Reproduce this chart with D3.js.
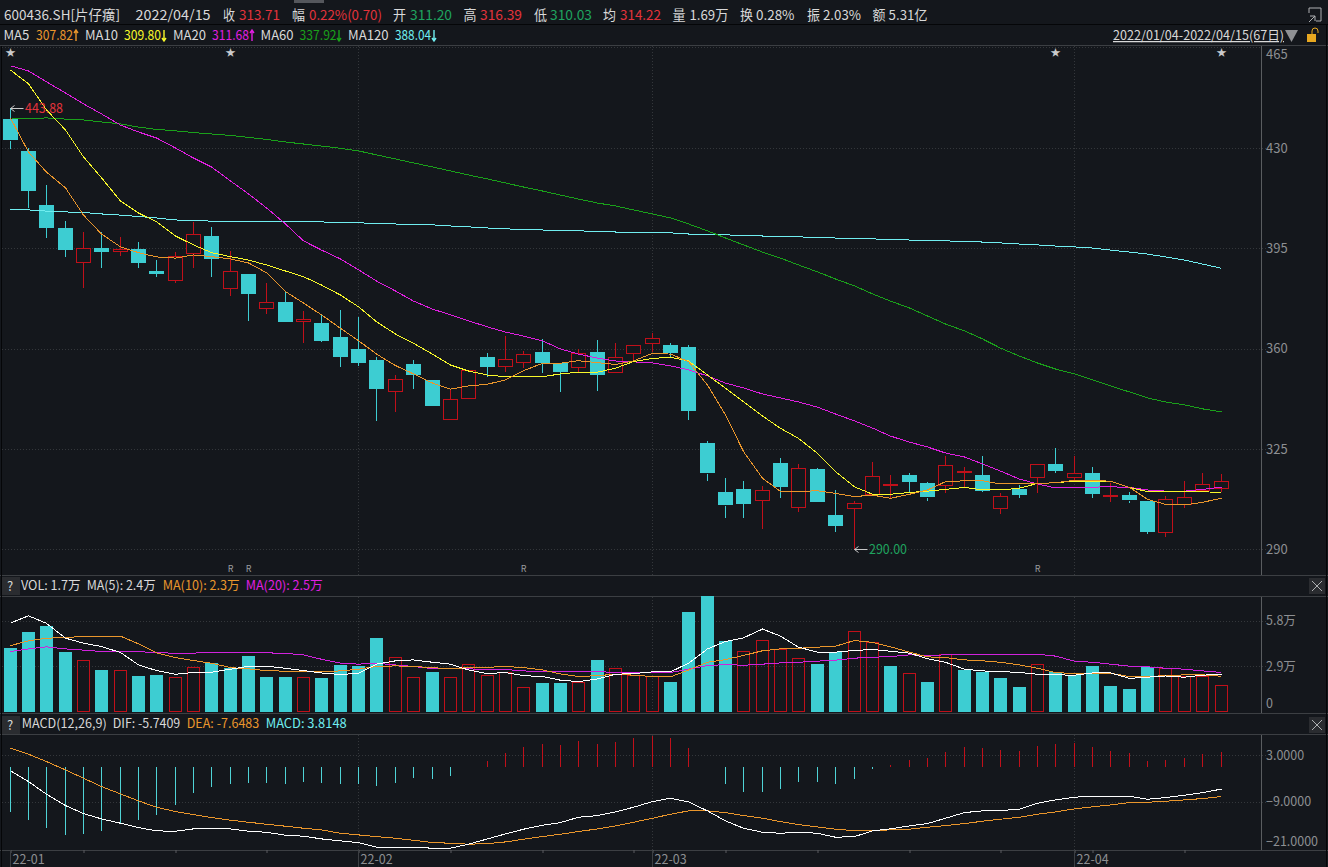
<!DOCTYPE html>
<html lang="zh"><head><meta charset="utf-8"><title>600436.SH</title>
<script src="https://cdnjs.cloudflare.com/ajax/libs/d3/7.8.5/d3.min.js"></script>
<style>html,body{margin:0;padding:0;background:#14171c;overflow:hidden}svg{display:block}text{font-family:"Noto Sans CJK SC","Noto Sans",sans-serif;font-size:12.5px}</style>
</head><body><div id="chart"></div>
<script>
const opens=[440.1,429.0,410.1,402.2,390.0,395.1,394.1,394.8,387.2,384.2,393.1,399.3,381.1,386.1,374.0,376.3,369.6,369.0,364.1,359.9,356.1,345.3,354.6,349.1,335.4,343.0,357.1,353.7,355.1,358.8,354.9,353.6,358.8,351.6,358.4,362.1,361.3,360.6,327.0,309.9,311.0,307.0,320.0,304.7,318.0,302.0,304.5,309.3,312.4,315.9,313.0,312.4,317.0,315.9,304.5,310.9,315.0,319.8,315.2,316.5,308.4,308.8,306.9,296.3,305.8,310.7,311.20];
const closes=[432.6,415.1,402.2,394.4,395.0,393.7,394.8,390.0,386.1,392.4,399.9,391.2,387.0,379.2,376.2,369.4,370.3,362.8,357.1,355.1,345.9,349.5,350.9,340.1,342.3,352.6,353.7,356.3,358.0,355.1,351.9,358.6,350.9,357.0,361.2,363.7,358.6,338.4,316.4,305.2,305.9,310.6,311.8,318.3,306.6,298.1,306.1,315.5,312.8,313.5,308.0,319.4,317.3,310.4,308.7,308.9,319.7,317.4,316.5,309.3,308.8,307.0,296.0,307.7,308.4,312.7,313.71];
const highs=[443.88,430.0,417.1,404.7,400.8,400.8,398.9,397.3,390.9,393.6,404.1,402.6,394.1,386.1,382.9,380.1,373.1,372.1,373.5,370.9,357.1,350.9,356.1,349.1,345.8,352.6,358.4,364.4,359.3,363.4,355.1,359.8,363.0,362.1,361.3,365.4,362.1,361.3,327.8,314.8,313.8,312.2,321.8,319.7,318.5,310.7,306.9,320.4,315.9,316.5,313.5,322.6,318.8,322.6,309.7,312.4,319.7,325.2,322.6,318.8,313.2,310.1,306.9,308.6,313.8,316.7,316.39];
const lows=[429.7,409.2,398.5,391.9,381.2,388.2,392.4,388.2,385.0,383.0,388.3,385.0,378.4,369.8,372.0,369.4,362.1,362.3,353.7,354.0,334.9,338.0,346.0,340.1,335.4,343.0,350.0,352.0,353.2,351.5,345.0,351.9,345.3,351.6,355.5,358.9,357.0,335.1,313.8,300.8,300.8,297.0,308.0,303.1,306.6,296.1,290.00,308.6,307.8,309.5,306.9,309.5,311.8,310.1,302.2,307.8,309.5,316.7,313.6,308.0,306.4,306.3,295.3,294.4,304.3,310.0,310.03];
const ma5=[440.5,428.6,421.6,416.1,406.6,400.0,395.5,393.5,392.0,391.6,392.7,392.1,391.3,389.9,386.5,379.9,375.9,371.8,367.1,362.8,358.1,354.1,351.2,348.0,345.9,347.0,347.6,349.1,352.3,354.9,354.9,355.8,355.1,354.5,355.7,358.4,358.1,355.5,347.3,336.9,324.1,314.8,310.2,310.2,310.4,309.5,308.4,308.9,307.8,309.2,310.7,313.6,313.9,313.9,312.8,313.0,313.0,313.2,314.1,313.9,313.8,311.6,307.4,305.7,305.5,306.4,307.82];
const ma10=[457.2,452.4,443.3,436.3,426.9,419.6,411.5,407.3,404.3,399.3,396.2,393.5,392.1,390.9,389.2,387.1,385.1,382.2,378.7,374.6,369.4,365.1,361.9,358.1,354.3,352.2,350.8,350.2,350.2,350.2,351.2,351.8,351.8,353.2,355.5,356.6,357.0,355.7,350.8,346.2,341.5,336.5,332.2,328.7,323.5,317.1,311.8,309.2,309.2,309.8,310.3,310.9,311.6,310.7,310.7,311.3,313.0,313.2,313.8,313.6,313.8,311.6,310.1,310.0,310.0,310.1,309.80];
const ma20=[458.7,456.9,453.1,449.2,445.4,441.9,438.0,435.6,433.5,430.0,426.5,423.4,418.5,414.0,409.1,403.5,397.6,394.4,391.3,387.5,383.6,380.1,376.6,373.8,371.8,369.7,367.6,365.8,364.4,362.7,359.9,358.1,356.7,355.7,355.4,355.0,354.0,352.6,350.5,348.0,346.3,344.2,342.8,341.4,339.6,337.2,334.8,332.3,329.5,327.4,325.7,323.6,322.2,319.8,317.3,314.5,312.8,311.4,311.7,311.7,311.8,311.6,310.7,310.3,310.3,310.9,311.68];
const ma60=[440.1,440.3,440.5,440.1,439.8,439.1,438.4,437.3,436.5,436.0,435.4,434.9,434.4,433.7,433.0,432.1,431.4,430.7,429.9,429.0,427.6,426.2,424.8,423.4,422.0,420.6,419.2,417.8,416.4,415.0,413.6,412.2,410.8,409.8,408.4,407.0,405.6,403.5,401.1,398.6,396.2,393.7,391.6,389.2,386.8,384.3,381.9,379.1,376.6,374.2,371.4,368.6,366.2,363.4,360.2,357.4,355.0,352.9,351.2,349.1,347.0,344.9,342.8,341.4,340.4,339.0,337.92];
const ma120=[408.6,408.4,408.0,407.7,407.5,407.0,406.6,406.1,405.6,404.9,404.7,404.5,404.5,404.5,404.4,404.4,404.3,404.2,404.1,403.9,403.7,403.5,403.3,403.2,402.8,402.5,402.1,401.8,401.6,401.4,401.2,401.1,400.9,400.7,400.6,400.5,400.4,400.0,399.8,399.7,399.5,399.3,399.1,399.0,398.8,398.6,398.4,398.3,398.1,397.9,397.7,397.6,397.4,397.2,396.9,396.5,396.2,395.8,395.5,395.1,394.4,393.7,393.0,392.0,390.9,389.5,388.04];
const volumes=[4.08,5.10,5.48,3.82,3.29,2.68,2.65,2.29,2.36,2.23,2.87,3.10,2.78,3.57,2.23,2.23,2.23,2.17,2.99,2.93,4.71,3.48,2.23,2.55,2.23,3.04,2.36,2.57,1.57,1.87,1.87,1.93,3.31,2.78,2.36,2.29,1.93,6.37,7.35,4.48,3.86,4.56,4.01,3.42,3.06,3.80,5.16,4.42,2.93,2.48,1.91,3.69,2.68,2.55,2.17,1.59,3.04,2.55,2.36,2.93,1.66,1.46,2.85,2.82,2.29,2.29,1.69];
const volumeUpDays=[4,6,9,10,16,21,22,24,25,26,27,28,31,33,34,35,40,41,42,43,46,47,49,51,56,63,64,65,66];
const volMa5=[5.65,6.11,5.63,4.69,4.37,4.16,3.78,2.99,2.63,2.40,2.51,2.53,2.72,2.91,2.91,2.78,2.63,2.48,2.38,2.46,3.04,3.25,3.31,3.16,3.04,2.67,2.44,2.51,2.31,2.25,2.02,1.93,2.10,2.40,2.44,2.55,2.55,3.10,4.01,4.48,4.71,5.27,4.82,4.12,3.80,3.80,3.91,3.97,3.86,3.74,3.38,3.16,2.72,2.61,2.57,2.51,2.40,2.36,2.34,2.48,2.48,2.14,2.21,2.29,2.21,2.34,2.40];
const volMa10=[4.22,4.52,4.69,4.73,4.80,4.82,4.82,4.33,3.76,3.46,3.27,3.10,2.82,2.74,2.63,2.59,2.59,2.57,2.61,2.72,2.89,2.93,2.89,2.82,2.74,2.82,2.84,2.89,2.82,2.67,2.42,2.25,2.31,2.40,2.34,2.25,2.23,2.67,3.16,3.33,3.59,3.89,4.01,4.05,4.12,4.18,4.54,4.42,4.14,3.80,3.50,3.46,3.31,3.25,3.16,2.99,2.78,2.51,2.44,2.46,2.46,2.25,2.25,2.31,2.36,2.36,2.27];
const volMa20=[3.84,4.01,4.14,4.01,3.93,3.84,3.86,3.84,3.76,3.74,3.74,3.80,3.76,3.80,3.76,3.72,3.63,3.35,3.10,3.04,3.10,2.99,2.89,2.76,2.74,2.74,2.70,2.70,2.61,2.57,2.57,2.55,2.59,2.48,2.51,2.51,2.51,2.72,2.95,3.01,2.97,3.04,3.12,3.16,3.23,3.29,3.42,3.48,3.52,3.63,3.59,3.63,3.63,3.63,3.63,3.63,3.67,3.55,3.23,3.16,3.04,2.91,2.87,2.78,2.72,2.61,2.51];
const macdBars=[-11.55,-13.7,-15.86,-17.6,-17.3,-16.5,-14.8,-13.7,-12.4,-9.8,-6.7,-5.2,-4.4,-4.05,-4.1,-4.4,-3.9,-4.1,-4.4,-4.4,-4.9,-4.05,-2.8,-3.1,-2.3,-0.1,1.55,3.5,5.1,5.9,5.7,6.7,5.9,6.55,7.4,8.0,7.6,4.8,-0.1,-4.4,-6.5,-6.5,-5.7,-4.0,-4.0,-4.4,-3.2,-0.6,0.5,1.8,2.2,3.9,5.1,4.8,4.4,4.1,5.4,5.9,6.2,5.1,4.1,3.6,1.4,1.8,2.4,3.4,3.8148];
const dif=[-1.03,-3.79,-7.07,-10.0,-12.07,-13.45,-14.57,-15.69,-16.55,-16.64,-16.03,-15.86,-16.03,-16.64,-16.9,-17.67,-17.93,-18.62,-19.14,-19.57,-20.78,-20.78,-20.78,-21.03,-21.03,-20.0,-18.62,-17.33,-16.12,-15.09,-14.4,-13.02,-12.59,-11.64,-10.43,-8.97,-8.1,-9.05,-11.38,-13.97,-15.86,-16.9,-17.16,-16.9,-17.16,-18.19,-18.02,-16.55,-16.03,-15.26,-14.66,-13.28,-11.81,-11.38,-11.29,-10.95,-9.4,-8.53,-7.84,-7.59,-7.59,-7.59,-8.36,-7.93,-7.33,-6.64,-5.7409];
const dea=[4.83,3.28,1.38,-0.78,-2.93,-5.09,-6.98,-8.79,-10.43,-11.55,-12.33,-13.1,-13.79,-14.31,-14.83,-15.34,-15.86,-16.29,-17.16,-17.59,-18.02,-18.45,-18.97,-19.57,-19.74,-20.0,-19.83,-19.4,-18.71,-18.02,-17.41,-16.72,-16.03,-15.26,-14.31,-13.28,-12.24,-11.38,-11.38,-11.81,-12.59,-13.28,-14.14,-14.91,-15.52,-16.12,-16.47,-16.47,-16.29,-16.12,-15.6,-15.17,-14.66,-14.05,-13.53,-13.02,-12.24,-11.64,-10.86,-10.34,-9.83,-9.22,-9.14,-8.88,-8.53,-8.19,-7.6483];
const priceTicks=[465,430,395,360,325,290];
const volTicks=[5.8,2.9,0];
const macdTicks=[3,-9,-21];
const monthIndex=[19,35,58];
const monthLabels=["22-01","22-02","22-03","22-04"];
const dayTicks=[0,4,9,14,19,24,29,34,35,39,44,49,54,58,59,64];
const starDays=[0,12,57,66];
const rDays=[12,13,28,56];

const W=1328,H=867;
const C={bg:"#14171c",grid:"#34373b",sep:"#3c3f43",axis:"#5a5d60",tick:"#8d8f92",white:"#d9d9d9",up:"#c0101a",down:"#3dcdd2",upT:"#e2333b",dnT:"#1fa35f",o:"#ea962c",y:"#f8f82a",m:"#e01fe0",g:"#1aa01a",c:"#70eef0"};
const x=d3.scaleLinear().domain([0,66]).range([10,1221]);
const px=i=>Math.floor(x(i))+.5;
const yP=d3.scaleLinear().domain([290,465]).range([549.3,47.7]);
const yV=d3.scaleLinear().domain([0,5.8]).range([712,620.7]);
const yM=d3.scaleLinear().domain([-21,3]).range([848.1,755.3]);
const days=d3.range(opens.length);
const svg=d3.select("#chart").append("svg").attr("width",W).attr("height",H).attr("viewBox",`0 0 ${W} ${H}`);
svg.append("rect").attr("width",W).attr("height",H).attr("fill",C.bg);

/* frame lines */
const hl=(y,c,x2=W)=>svg.append("line").attr("x1",0).attr("x2",x2).attr("y1",y+.5).attr("y2",y+.5).attr("stroke",c);
hl(24,"#050608");hl(45,C.sep);hl(575,C.sep);hl(596,C.sep);hl(713,C.sep);hl(734,C.sep);hl(850,C.sep);
svg.append("rect").attr("x",1).attr("y",46).attr("width",1).attr("height",821).attr("fill","#050608");
svg.append("rect").attr("x",1326).attr("y",24).attr("width",1).attr("height",843).attr("fill","#050608");
svg.append("rect").attr("x",294).attr("y",0).attr("width",30).attr("height",3).attr("fill","#55575c");
[[46,575],[597,713],[735,850]].forEach(([a,b])=>svg.append("line").attr("x1",1261.5).attr("x2",1261.5).attr("y1",a).attr("y2",b).attr("stroke",C.axis));

/* grid */
const dotted=(g,a,b,c,d)=>g.append("line").attr("x1",a).attr("x2",b).attr("y1",c).attr("y2",d).attr("stroke",C.grid).attr("stroke-dasharray","1,2");
const grid=svg.append("g");
priceTicks.slice(1).forEach(t=>dotted(grid,2,1266,Math.round(yP(t))+.5,Math.round(yP(t))+.5));
dotted(grid,2,1262,47.5,47.5);
volTicks.slice(0,2).forEach(t=>dotted(grid,2,1266,Math.round(yV(t))+.5,Math.round(yV(t))+.5));
macdTicks.slice(0,2).forEach(t=>dotted(grid,2,1266,Math.round(yM(t))+.5,Math.round(yM(t))+.5));
monthIndex.forEach(i=>{[[46,575],[597,713],[735,850]].forEach(([a,b])=>dotted(grid,px(i),px(i),a,b));});

/* candles */
const isRed=i=>closes[i]>=opens[i];
const cand=svg.append("g");
cand.selectAll("line.wick-top").data(days).join("line").attr("class","wick-top")
 .attr("x1",px).attr("x2",px)
 .attr("y1",i=>Math.round(yP(highs[i]))).attr("y2",i=>Math.round(yP(Math.max(opens[i],closes[i]))))
 .attr("stroke",i=>isRed(i)?C.up:C.down);
cand.selectAll("line.wick-bot").data(days).join("line").attr("class","wick-bot")
 .attr("x1",px).attr("x2",px)
 .attr("y1",i=>Math.round(yP(Math.min(opens[i],closes[i])))).attr("y2",i=>Math.round(yP(lows[i])))
 .attr("stroke",i=>isRed(i)?C.up:C.down);
cand.selectAll("rect").data(days).join("rect")
 .attr("x",i=>isRed(i)?px(i)-7:px(i)-7.5)
 .attr("width",i=>isRed(i)?14:15)
 .attr("y",i=>Math.round(yP(Math.max(opens[i],closes[i])))+(isRed(i)?.5:0))
 .attr("height",i=>Math.max(1,Math.round(Math.abs(yP(opens[i])-yP(closes[i])))))
 .attr("fill",i=>isRed(i)?C.bg:C.down)
 .attr("stroke",i=>isRed(i)?C.up:"none");
const lineOn=(g,arr,y,c)=>g.append("path").datum(arr).attr("fill","none").attr("stroke",c).attr("stroke-width",1)
 .attr("shape-rendering","crispEdges").attr("d",d3.line().x((d,i)=>px(i)).y(d=>y(d)));
const lp=svg.append("g");
lineOn(lp,ma120,yP,C.c);lineOn(lp,ma60,yP,C.g);lineOn(lp,ma20,yP,C.m);lineOn(lp,ma10,yP,C.y);lineOn(lp,ma5,yP,C.o);

/* volume */
const vg=svg.append("g");
const isUp=i=>volumeUpDays.includes(i);
vg.selectAll("rect").data(days).join("rect")
 .attr("x",i=>isUp(i)?px(i)-6:px(i)-6.5)
 .attr("width",i=>isUp(i)?12:13)
 .attr("y",i=>Math.round(yV(volumes[i]))+(isUp(i)?.5:0))
 .attr("height",i=>Math.round(yV(0)-yV(volumes[i]))-(isUp(i)?1:0))
 .attr("fill",i=>isUp(i)?"none":C.down)
 .attr("stroke",i=>isUp(i)?C.up:"none");
lineOn(vg,volMa20,yV,"#d022dc");lineOn(vg,volMa10,yV,C.o);lineOn(vg,volMa5,yV,"#ffffff");

/* macd */
const mg=svg.append("g");
mg.selectAll("line").data(days).join("line")
 .attr("x1",px).attr("x2",px)
 .attr("y1",Math.round(yM(0))).attr("y2",i=>Math.round(yM(macdBars[i])))
 .attr("stroke",i=>macdBars[i]>=0?C.up:"#4fd3d6");
lineOn(mg,dea,yM,C.o);lineOn(mg,dif,yM,"#ffffff");

/* axes */
function rightAxis(scale,ticks,fmt,nudge,fs){
 const a=svg.append("g").attr("transform","translate(1266,0)")
  .call(d3.axisRight(scale).tickValues(ticks).tickSize(0).tickPadding(0).tickFormat(fmt));
 a.select(".domain").remove();
 a.selectAll("text").attr("fill",C.tick).style("font-size",fs+"px").attr("dy",".32em")
  .attr("transform",d=>`translate(0,${nudge(d)})`);
}
rightAxis(yP,priceTicks,d3.format("d"),d=>d===465?7:0,13);
rightAxis(yV,volTicks,d=>d===0?"0":d3.format(".1f")(d)+"万",d=>d===0?-9:0,12.5);
rightAxis(yM,macdTicks,d3.format(".4f"),d=>d===-21?-7:0,12.5);

const xa=svg.append("g").attr("transform","translate(0,850)")
 .call(d3.axisBottom(d3.scaleIdentity()).tickValues(dayTicks.map(px)).tickSize(3).tickFormat(""));
xa.select(".domain").remove();xa.selectAll("line").attr("stroke",C.axis);
const xLab=[0,...monthIndex];
svg.append("g").selectAll("text").data(monthLabels).join("text")
 .attr("x",(d,i)=>px(xLab[i])+2).attr("y",864).attr("fill",C.tick).style("font-size","12.5px").text(d=>d);
xLab.forEach(i=>svg.append("line").attr("x1",px(i)).attr("x2",px(i)).attr("y1",850).attr("y2",867).attr("stroke",C.sep));

/* header */
const T=(xx,y,s,c,fs,len)=>{const t=svg.append("text").attr("x",xx).attr("y",y).attr("fill",c).style("font-size",(fs||12.5)+"px").text(s);
 if(len)t.attr("textLength",len).attr("lengthAdjust","spacingAndGlyphs");return t;};
const R1=[[4,"600436.SH[片仔癀]",C.white,116],[135.6,"2022/04/15",C.white,75],[223,"收",C.white,12],[239,"313.71",C.upT,41],[292,"幅",C.white,13],[309,"0.22%(0.70)",C.upT,73],[393,"开",C.white,13],[410,"311.20",C.dnT,42],[463.5,"高",C.white,13],[480,"316.39",C.upT,42],[534,"低",C.white,13],[550,"310.03",C.dnT,42],[603,"均",C.white,13],[620,"314.22",C.upT,41],[672.5,"量",C.white,13],[689.4,"1.69万",C.white,39],[740,"换",C.white,13],[756,"0.28%",C.white,38.5],[807,"振",C.white,13],[823,"2.03%",C.white,38],[872.5,"额",C.white,13],[888.6,"5.31亿",C.white,39]];
R1.forEach(r=>T(r[0],20,r[1],r[2],13.5,r[3]));
const R2=[[3.4,"MA5",C.white,26],[36,"307.82",C.o,37],[85,"MA10",C.white,33],[124,"309.80",C.y,37],[173,"MA20",C.white,33],[212,"311.68",C.m,37],[260.6,"MA60",C.white,33],[299.6,"337.92",C.g,37],[348,"MA120",C.white,40.5],[395,"388.04",C.c,36]];
R2.forEach(r=>T(r[0],40,r[1],r[2],13,r[3]));
const trendArrows=[[76,1,C.o],[164,-1,C.y],[252,1,C.m],[339,-1,C.g],[434,-1,C.c]];
trendArrows.forEach(([ax,dir,c])=>{const y0=dir>0?30:41,s=dir>0?3:-3;
 svg.append("path").attr("d",`M${ax} 30v11M${ax-2} ${y0+s}L${ax} ${y0}L${ax+2} ${y0+s}`).attr("fill","none").attr("stroke",c).attr("stroke-width",1.4);});
T(1113,40,"2022/01/04-2022/04/15(67日)",C.white,12.5,171).attr("text-decoration","underline");
svg.append("path").attr("d","M1285 30h13l-6.5 12z").attr("fill","#8f9194");
svg.append("rect").attr("x",1307).attr("y",34).attr("width",9).attr("height",8).attr("fill","#e8a820");
svg.append("path").attr("d","M1312 34v-3a3 3 0 0 1 6 0v2").attr("fill","none").attr("stroke","#e8a820");
svg.append("path").attr("d","M1309 8h12v13h-5M1309 8v5M1309 22l6-6M1310 16h5v5").attr("fill","none").attr("stroke","#aeb0b2");

/* pane titles */
const btn=(bx,by,w,h)=>svg.append("rect").attr("x",bx).attr("y",by).attr("width",w).attr("height",h).attr("fill","#2a2c30");
btn(2,577,18,18);T(7,591,"?",C.white,13);
[[21,"VOL: 1.7万",C.white,59.7],[86.7,"MA(5): 2.4万",C.white,69],[162.7,"MA(10): 2.3万",C.o,77],[245.7,"MA(20): 2.5万",C.m,77]].forEach(r=>T(r[0],590,r[1],r[2],12.5,r[3]));
btn(2,716,18,18);T(7,730,"?",C.white,13);
[[21.7,"MACD(12,26,9)",C.white,85],[112.7,"DIF: -5.7409",C.white,67.6],[186.7,"DEA: -7.6483",C.o,72.6],[265.7,"MACD: 3.8148",C.c,81]].forEach(r=>T(r[0],728,r[1],r[2],12.5,r[3]));
[578,717].forEach(by=>{btn(1309,by,16,16);svg.append("path").attr("d",`M1312 ${by+3}l10 10M1322 ${by+3}l-10 10`).attr("stroke","#aeb0b2");});

/* annotations */
svg.append("g").selectAll("text").data(starDays).join("text").attr("x",i=>px(i)).attr("y",56).attr("text-anchor","middle").attr("fill","#c9cacb").style("font-size","10px").text("★");
svg.append("g").selectAll("text").data(rDays).join("text").attr("x",i=>px(i)).attr("y",572).attr("text-anchor","middle").attr("fill","#9a9c9e").style("font-size","9px").text("R");
const arrow=(xi,v,c,tc,s)=>{const ax=px(xi),ay=Math.round(yP(v))+.5;
 svg.append("path").attr("d",`M${ax} ${ay}h13M${ax+4} ${ay-3}l-4 3l4 3`).attr("fill","none").attr("stroke",c);
 T(ax+14.5,ay+4.5,s,tc,13,38);};
arrow(0,443.88,"#c8c8c8",C.upT,"443.88");
arrow(46,290,"#c8c8c8",C.dnT,"290.00");
</script></body></html>
